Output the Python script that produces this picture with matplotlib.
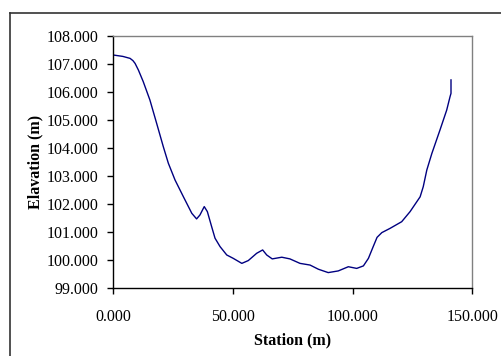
import matplotlib
matplotlib.use("Agg")
import matplotlib.pyplot as plt
from matplotlib.lines import Line2D
import numpy as np

# cross-section survey: station (m) vs ground elevation (m)
station = [0.0, 4.0, 7.0, 8.2, 9.1, 10.5, 12.5, 15.3, 18.1, 20.9, 23.0, 25.8,
           29.3, 32.8, 34.8, 36.2, 38.0, 39.3, 41.1, 42.5, 44.6, 47.4, 50.1,
           53.7, 56.4, 59.9, 62.4, 64.1, 66.4, 70.4, 73.8, 78.0, 82.2, 85.7,
           89.8, 94.0, 98.2, 101.7, 104.5, 106.6, 108.6, 110.2, 112.2, 115.6,
           120.5, 124.0, 128.2, 129.5, 131.0, 133.1, 136.5, 139.3, 140.7,
           141.1, 141.1]
elevation = [107.32, 107.27, 107.20, 107.12, 107.02, 106.78, 106.37, 105.71,
             104.88, 104.04, 103.45, 102.85, 102.25, 101.66, 101.46, 101.60,
             101.90, 101.72, 101.18, 100.77, 100.47, 100.17, 100.05, 99.87,
             99.97, 100.23, 100.35, 100.17, 100.03, 100.09, 100.03, 99.87,
             99.81, 99.66, 99.54, 99.60, 99.75, 99.69, 99.78, 100.05, 100.47,
             100.80, 100.97, 101.12, 101.36, 101.72, 102.25, 102.61, 103.21,
             103.80, 104.64, 105.35, 105.83, 105.95, 106.43]

x_ticks = [0, 50, 100, 150]
y_ticks = [99, 100, 101, 102, 103, 104, 105, 106, 107, 108]

plt.rcParams["font.family"] = ["Liberation Serif", "DejaVu Serif"]

W, H = 502, 356
fig = plt.figure(figsize=(W / 100, H / 100), dpi=100)
fig.patch.set_facecolor("white")

# plot area in pixel terms
L, T, R, B = 113.3, 36.0, 472.3, 287.7
ax = fig.add_axes([L / W, 1 - B / H, (R - L) / W, (B - T) / H])

ax.plot(station, elevation, color="#000080", lw=1.0,
        solid_joinstyle="round")

ax.set_xlim(0, 150)
ax.set_ylim(99, 108)
ax.set_xticks(x_ticks)
ax.set_yticks(y_ticks)
ax.set_xticklabels([f"{v:.3f}" for v in x_ticks])
ax.set_yticklabels([f"{v:.3f}" for v in y_ticks])
ax.tick_params(direction="out", length=4, width=1, labelsize=11.5,
               colors="black")
ax.tick_params(axis="x", pad=11)
ax.tick_params(axis="y", pad=7)

for side in ("left", "bottom"):
    ax.spines[side].set_color("black")
    ax.spines[side].set_linewidth(1.0)
for side in ("top", "right"):
    ax.spines[side].set_color("#808080")
    ax.spines[side].set_linewidth(1.0)

ax.set_xlabel("Station (m)", fontsize=11.5, fontweight="bold", labelpad=6)
ax.set_ylabel("Elavation (m)", fontsize=11.5, fontweight="bold", labelpad=2)

# chart area border (runs off the right and bottom edges)
fx0, fy0 = 9.5 / W, 1 - 12.5 / H
fig.add_artist(Line2D([fx0, 1.01], [fy0, fy0], color="#333333", lw=1.2,
                      transform=fig.transFigure))
fig.add_artist(Line2D([fx0, fx0], [fy0, -0.01], color="#333333", lw=1.2,
                      transform=fig.transFigure))

fig.savefig("out.png", dpi=100)
